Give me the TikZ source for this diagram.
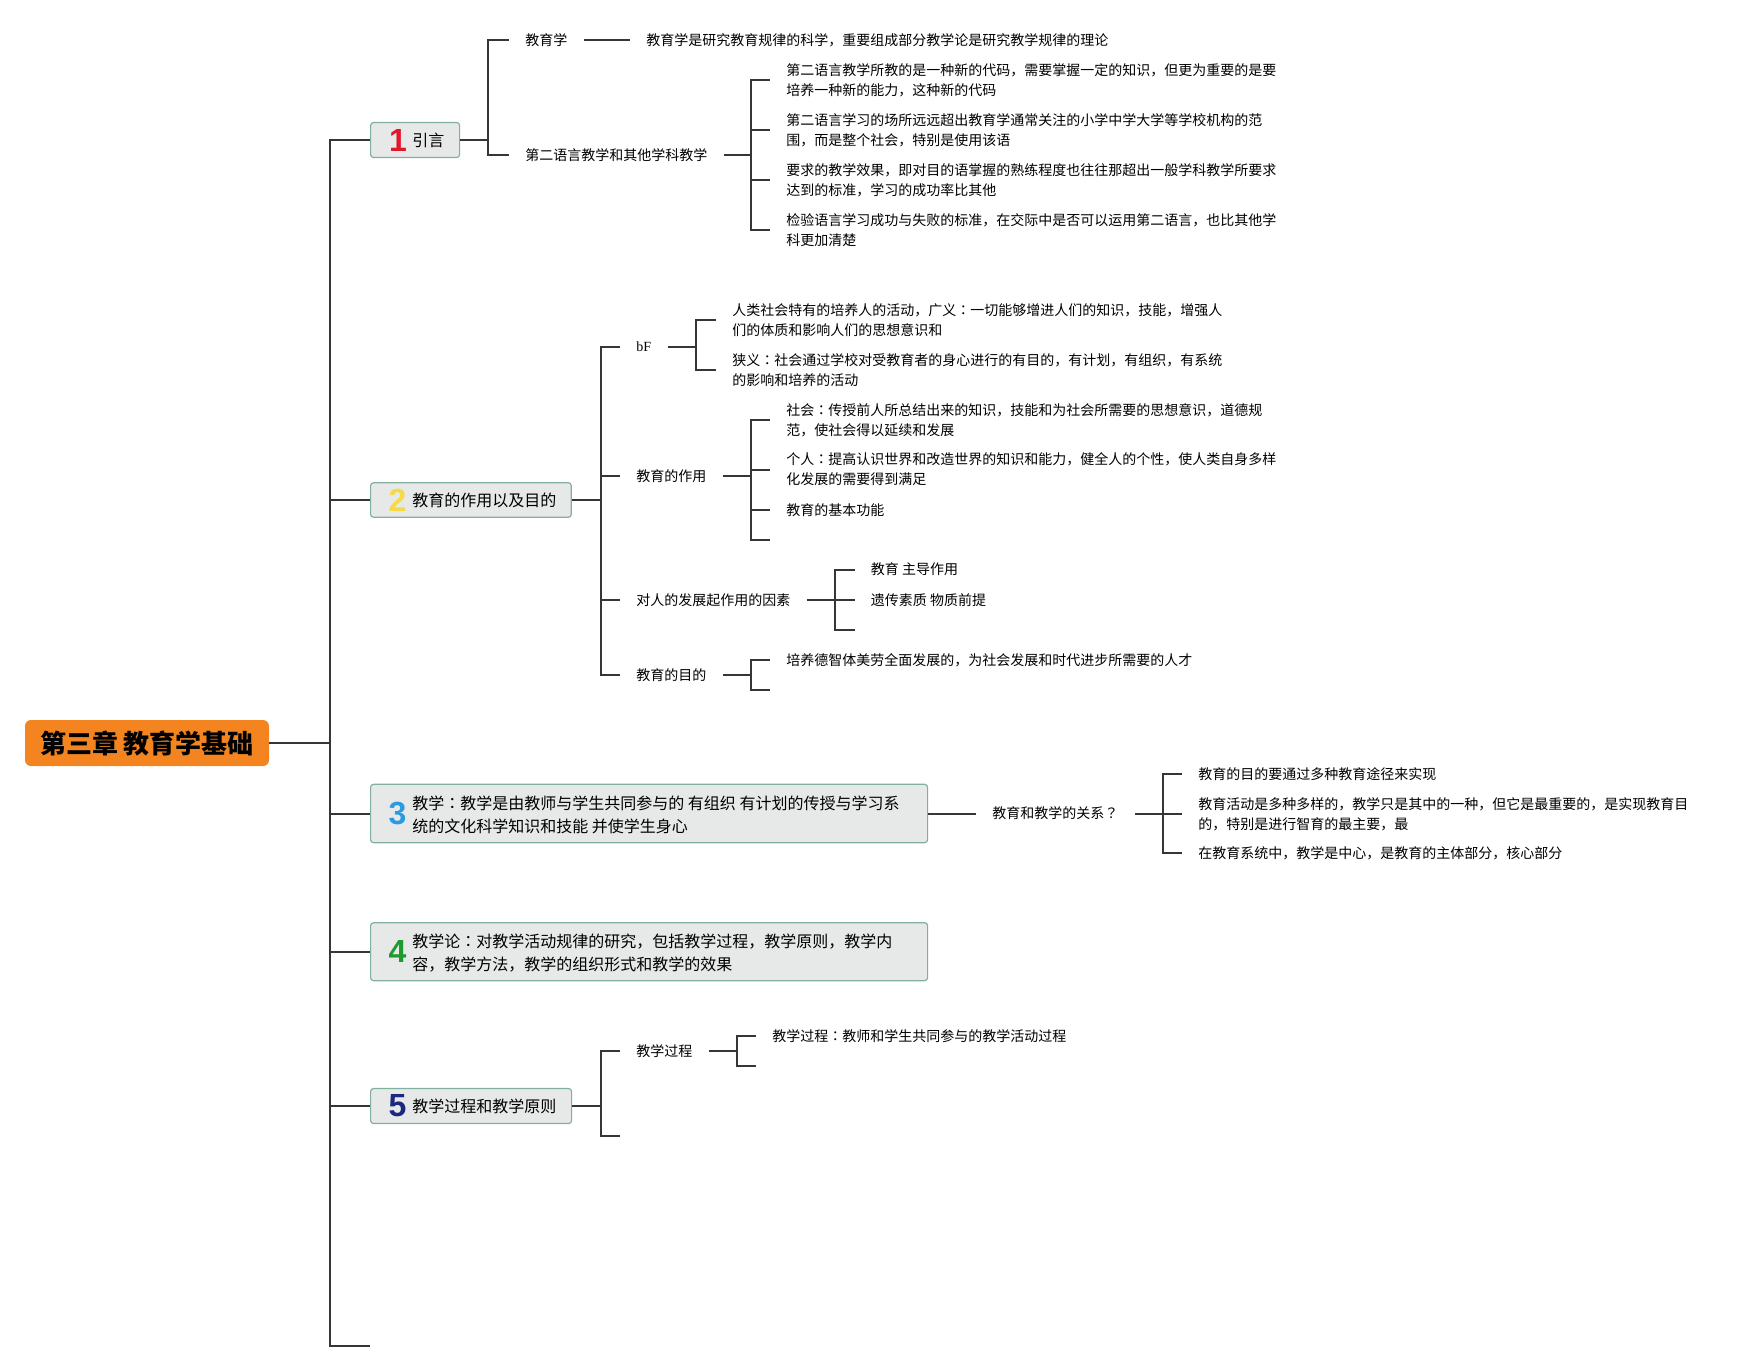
\documentclass[tikz,border=0pt]{standalone}
\usepackage{fontspec}
\setmainfont{Noto Sans CJK SC}
\newfontfamily\numfont{Liberation Sans}
\newfontfamily\latinserif{Liberation Serif}
\newfontfamily\jpfont{Noto Sans CJK JP}
\newcommand{\fwcolon}{{\jpfont ：}}
\newcommand{\fwquest}{{\jpfont ？}}
\definecolor{linec}{HTML}{363636}
\definecolor{boxfill}{HTML}{E7E8E8}
\definecolor{boxborder}{HTML}{82B09F}
\definecolor{rootfill}{HTML}{F4841F}
\definecolor{nA}{HTML}{E3172C}
\definecolor{nB}{HTML}{F6D948}
\definecolor{nC}{HTML}{2B9BE0}
\definecolor{nD}{HTML}{1F9A2E}
\definecolor{nE}{HTML}{1C2880}
\begin{document}
\begin{tikzpicture}[x=0.5pt,y=-0.5pt,
  conn/.style={draw=linec, line width=1pt},
  lv/.style={anchor=west, inner xsep=8pt, inner ysep=0pt, align=left, text=black,
    font=\fontsize{7}{10}\selectfont},
  topic/.style={anchor=west, draw=boxborder, fill=boxfill, line width=0.6pt,
    rounded corners=1.5pt, inner sep=0pt},
  num/.style={inner sep=0pt, font=\numfont\bfseries\fontsize{16}{16}\selectfont},
  ttext/.style={anchor=west, inner sep=0pt, align=left, text=black,
    font=\fontsize{8}{11.5}\selectfont},
  rootbox/.style={fill=rootfill, rounded corners=3pt, inner sep=0pt,
    minimum width=122pt, minimum height=23pt, text=black,
    font=\bfseries\fontsize{13}{13}\selectfont}
]
\useasboundingbox (0,0) rectangle (1758,1371);

% root
\node[rootbox] (root) at (147,743) {第三章 教育学基础};
\coordinate (tx) at (330,0);

% main topics
\node[topic, minimum width=44.5pt, minimum height=17.5pt] (b1) at (370,140) {};
\node[num, text=nA] (n1) at (398,140) {1};
\node[ttext] (t1) at (412,140) {引言};

\node[topic, minimum width=100.35pt, minimum height=17.3pt] (b2) at (370,500) {};
\node[num, text=nB] (n2) at (397.5,500) {2};
\node[ttext] (t2) at (412,500) {教育的作用以及目的};

\node[topic, minimum width=278.5pt, minimum height=29.2pt] (b3) at (370,813.5) {};
\node[num, text=nC] (n3) at (397.5,813.5) {3};
\node[ttext] (t3) at (412,815) {教学\fwcolon 教学是由教师与学生共同参与的 有组织 有计划的传授与学习系\\统的文化科学知识和技能 并使学生身心};

\node[topic, minimum width=278.5pt, minimum height=29pt] (b4) at (370,951.7) {};
\node[num, text=nD] (n4) at (397.5,951.7) {4};
\node[ttext] (t4) at (412,953) {教学论\fwcolon 对教学活动规律的研究，包括教学过程，教学原则，教学内\\容，教学方法，教学的组织形式和教学的效果};

\node[topic, minimum width=100.5pt, minimum height=17.5pt] (b5) at (370,1106) {};
\node[num, text=nE] (n5) at (397.5,1106) {5};
\node[ttext] (t5) at (412,1106) {教学过程和教学原则};

\coordinate (tend) at (370,1346);

% trunk
\draw[conn] (root.east) -- (root.east -| tx);
\draw[conn] (b1.west) -- (b1.west -| tx) -- (tend -| tx) -- (tend);
\foreach \b in {b2,b3,b4,b5} \draw[conn] (\b.west) -- (\b.west -| tx);

% ---- topic 1
\coordinate (k1) at (488,0);
\node[lv] (c11) at (509,40) {教育学};
\node[lv] (c12) at (509,155) {第二语言教学和其他学科教学};
\foreach \c in {c11,c12} \draw[conn] (b1.east) -- (b1.east -| k1) |- (\c.west);

\node[lv] (c111) at (630,40) {教育学是研究教育规律的科学，重要组成部分教学论是研究教学规律的理论};
\draw[conn] (c11.east) -- (c111.west);

\coordinate (k12) at (751,0);
\node[lv] (c121) at (770,80) {第二语言教学所教的是一种新的代码，需要掌握一定的知识，但更为重要的是要\\培养一种新的能力，这种新的代码};
\node[lv] (c122) at (770,130) {第二语言学习的场所远远超出教育学通常关注的小学中学大学等学校机构的范\\围，而是整个社会，特别是使用该语};
\node[lv] (c123) at (770,180) {要求的教学效果，即对目的语掌握的熟练程度也往往那超出一般学科教学所要求\\达到的标准，学习的成功率比其他};
\node[lv] (c124) at (770,230) {检验语言学习成功与失败的标准，在交际中是否可以运用第二语言，也比其他学\\科更加清楚};
\foreach \c in {c121,c122,c123,c124} \draw[conn] (c12.east) -- (c12.east -| k12) |- (\c.west);

% ---- topic 2
\coordinate (k2) at (600.5,0);
\node[lv, font=\latinserif\fontsize{7}{10}\selectfont] (c21) at (620,346.7) {bF};
\node[lv] (c22) at (620,476) {教育的作用};
\node[lv] (c23) at (620,600) {对人的发展起作用的因素};
\node[lv] (c24) at (620,675) {教育的目的};
\foreach \c in {c21,c22,c23,c24} \draw[conn] (b2.east) -- (b2.east -| k2) |- (\c.west);

\coordinate (k21) at (696,0);
\node[lv] (c211) at (716,320) {人类社会特有的培养人的活动，广义\fwcolon 一切能够增进人们的知识，技能，增强人\\们的体质和影响人们的思想意识和};
\node[lv] (c212) at (716,370) {狭义\fwcolon 社会通过学校对受教育者的身心进行的有目的，有计划，有组织，有系统\\的影响和培养的活动};
\foreach \c in {c211,c212} \draw[conn] (c21.east) -- (c21.east -| k21) |- (\c.west);

\coordinate (k22) at (751,0);
\node[lv] (c221) at (770,420) {社会\fwcolon 传授前人所总结出来的知识，技能和为社会所需要的思想意识，道德规\\范，使社会得以延续和发展};
\node[lv] (c222) at (770,469.5) {个人\fwcolon 提高认识世界和改造世界的知识和能力，健全人的个性，使人类自身多样\\化发展的需要得到满足};
\node[lv] (c223) at (770,510) {教育的基本功能};
\coordinate (c224) at (770,540);
\foreach \c in {c221.west,c222.west,c223.west,c224} \draw[conn] (c22.east) -- (c22.east -| k22) |- (\c);

\coordinate (k23) at (835,0);
\node[lv] (c231) at (854.5,569.5) {教育 主导作用};
\node[lv] (c232) at (854.5,600) {遗传素质 物质前提};
\coordinate (c233) at (854.5,630);
\foreach \c in {c231.west,c232.west,c233} \draw[conn] (c23.east) -- (c23.east -| k23) |- (\c);

\coordinate (k24) at (751,0);
\node[lv] (c241) at (770,660) {培养德智体美劳全面发展的，为社会发展和时代进步所需要的人才};
\coordinate (c242) at (770,690);
\foreach \c in {c241.west,c242} \draw[conn] (c24.east) -- (c24.east -| k24) |- (\c);

% ---- topic 3
\node[lv] (c31) at (976,813.5) {教育和教学的关系\fwquest};
\draw[conn] (b3.east) -- (c31.west);
\coordinate (k31) at (1163,0);
\node[lv] (c311) at (1182,774) {教育的目的要通过多种教育途径来实现};
\node[lv] (c312) at (1182,814) {教育活动是多种多样的，教学只是其中的一种，但它是最重要的，是实现教育目\\的，特别是进行智育的最主要，最};
\node[lv] (c313) at (1182,853) {在教育系统中，教学是中心，是教育的主体部分，核心部分};
\foreach \c in {c311,c312,c313} \draw[conn] (c31.east) -- (c31.east -| k31) |- (\c.west);

% ---- topic 5
\coordinate (k5) at (601,0);
\node[lv] (c51) at (620,1051) {教学过程};
\coordinate (c52) at (620,1136);
\foreach \c in {c51.west,c52} \draw[conn] (b5.east) -- (b5.east -| k5) |- (\c);

\coordinate (k51) at (737.4,0);
\node[lv] (c511) at (756,1036) {教学过程\fwcolon 教师和学生共同参与的教学活动过程};
\coordinate (c512) at (756,1066);
\foreach \c in {c511.west,c512} \draw[conn] (c51.east) -- (c51.east -| k51) |- (\c);
\end{tikzpicture}
\end{document}
